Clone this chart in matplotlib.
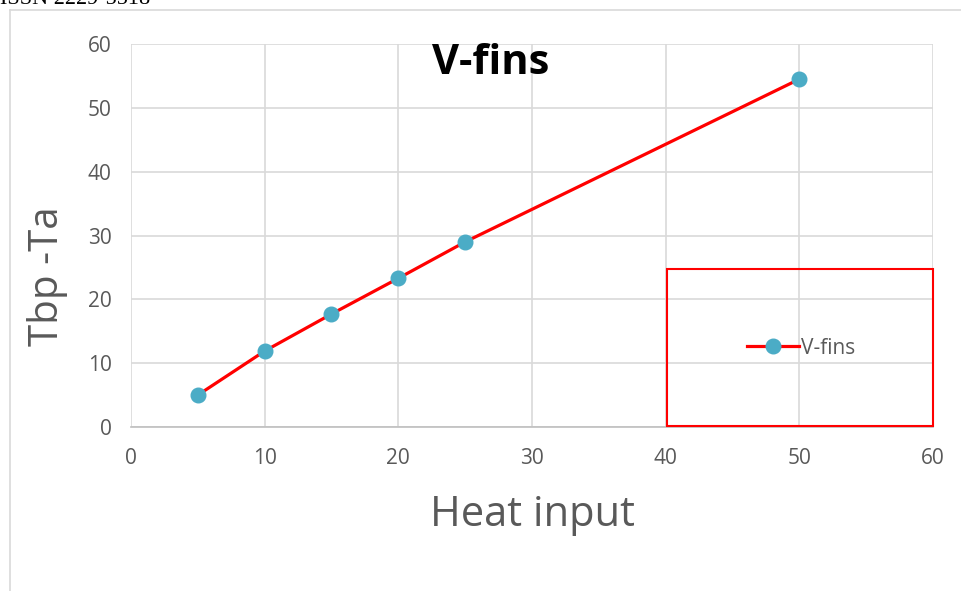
#!/usr/bin/env python3

import matplotlib
matplotlib.use("Agg")
import matplotlib.pyplot as plt
from matplotlib.lines import Line2D
from matplotlib.patches import Rectangle

# Data.
heat_input = [5, 10, 15, 20, 25, 50]
temp_diff = [5.0, 11.9, 17.7, 23.3, 29.0, 54.5]
x_ticks = [0, 10, 20, 30, 40, 50, 60]
y_ticks = [0, 10, 20, 30, 40, 50, 60]
series_name = "V-fins"
chart_title = "V-fins"


def main():
    plt.rcParams["font.family"] = ["Open Sans", "DejaVu Sans"]

    fig = plt.figure(figsize=(9.61, 5.91), dpi=100, facecolor="white")
    ax = fig.add_axes([0.1363, 0.2775, 0.8346, 0.648])

    # Page frame lines and cut off header text.
    fig.add_artist(Line2D([0.0104, 0.0104], [0.0, 0.983],
                          transform=fig.transFigure, color="#d9d9d9", lw=1.2))
    fig.add_artist(Line2D([0.0104, 1.0], [0.983, 0.983],
                          transform=fig.transFigure, color="#d9d9d9", lw=1.2))
    fig.text(0.0, 0.9925, "ISSN 2229-5518", family="Liberation Serif",
             fontsize=16, va="baseline", ha="left", color="black")

    # Series line with markers.
    ax.plot(heat_input, temp_diff, color="red", lw=2.3, marker="o",
            markersize=10.5, markerfacecolor="#4bacc6",
            markeredgecolor="#4bacc6", label=series_name, zorder=3)

    ax.set_xlim(x_ticks[0], x_ticks[-1])
    ax.set_ylim(y_ticks[0], y_ticks[-1])
    ax.set_xticks(x_ticks)
    ax.set_yticks(y_ticks)
    ax.tick_params(axis="both", length=0, labelsize=15,
                   labelcolor="#595959")
    ax.tick_params(axis="x", pad=15)
    ax.tick_params(axis="y", pad=14)

    ax.grid(True, color="#d9d9d9", lw=1.2)
    ax.set_axisbelow(True)
    for spine in ["top", "right", "left"]:
        ax.spines[spine].set_visible(False)
    ax.spines["bottom"].set_color("#bfbfbf")
    ax.spines["bottom"].set_linewidth(1.2)

    ax.set_xlabel("Heat input", fontsize=30, color="#595959", labelpad=18)
    ax.set_ylabel("Tbp -Ta", fontsize=29, color="#595959")
    ax.yaxis.set_label_coords(-0.078, 0.394)
    ax.text(0.449, 0.95, chart_title, transform=ax.transAxes,
            fontsize=30, fontweight="bold", color="black",
            ha="center", va="center")

    # Legend inside a red box.
    ax.add_patch(Rectangle((0.668, 0.003), 0.332, 0.41,
                           transform=ax.transAxes, fill=False,
                           edgecolor="red", lw=1.5, zorder=4,
                           clip_on=False))
    ax.legend(loc="center", bbox_to_anchor=(0.836, 0.206), frameon=False,
              fontsize=15, labelcolor="#595959", handlelength=2.5,
              handletextpad=0.1)

    fig.savefig("out.png", dpi=100, facecolor="white")


if __name__ == "__main__":
    main()
